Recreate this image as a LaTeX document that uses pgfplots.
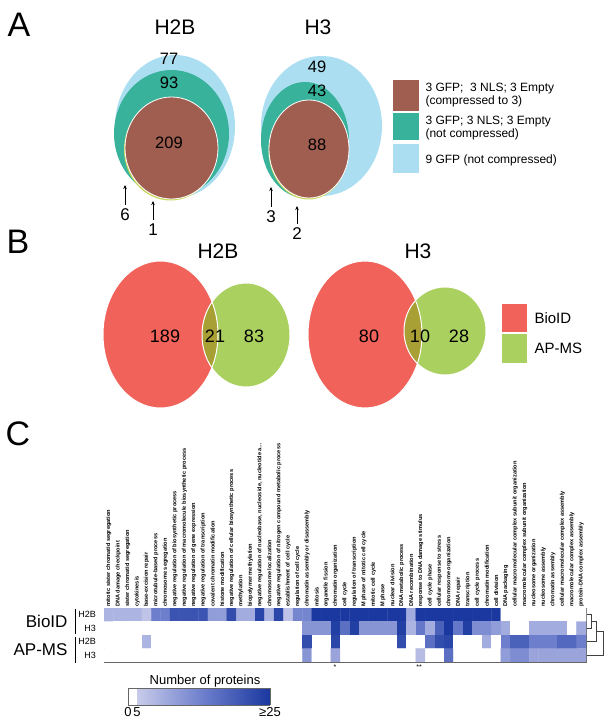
\documentclass[border=0pt]{standalone}
\usepackage{fontspec}
\setmainfont{Liberation Sans}
\usepackage{pgfplots}
\pgfplotsset{compat=1.18}
\usetikzlibrary{arrows.meta}

\definecolor{vbrown}{RGB}{160,94,80}
\definecolor{vteal}{RGB}{56,178,154}
\definecolor{vsky}{RGB}{172,222,242}
\definecolor{vlime}{RGB}{200,214,90}
\definecolor{vred}{RGB}{240,98,90}
\definecolor{vgreen}{RGB}{170,208,96}
\definecolor{volive}{RGB}{168,160,52}

\pgfplotsset{colormap={prot}{rgb255(0pt)=(255,255,255) rgb255(5pt)=(200,203,234) rgb255(15pt)=(108,126,204) rgb255(25pt)=(26,56,160)}}

\newcommand{\fs}[1]{\fontsize{#1}{#1}\selectfont}

\begin{document}
\begin{tikzpicture}
\useasboundingbox (0,0) rectangle (611pt,727pt);

% canvas in pixel coordinates, y down
\begin{axis}[at={(0pt,0pt)}, anchor=south west, width=611pt, height=727pt, scale only axis,
  xmin=0, xmax=611, ymin=0, ymax=727, y dir=reverse, hide axis, clip=false]

% ---------- panel A
\node[font=\fs{34}] at (axis cs:19,25) {A};
\node[font=\fs{21}] at (axis cs:175,27) {H2B};
\node[font=\fs{21}] at (axis cs:318,27) {H3};

\fill[vsky] (axis cs:175,126.5) ellipse [x radius=60, y radius=71.5];
\fill[vteal] (axis cs:171.5,133.5) ellipse [x radius=57.5, y radius=63.5];
\fill[vlime] (axis cs:170.5,149.5) ellipse [x radius=46.5, y radius=51];
\filldraw[fill=vbrown, draw=white, line width=0.8pt] (axis cs:171.5,148) ellipse [x radius=46.5, y radius=51];

\fill[vsky] (axis cs:321.5,126) ellipse [x radius=60.5, y radius=70];
\fill[vteal] (axis cs:305,140) ellipse [x radius=44, y radius=58];
\fill[vlime] (axis cs:308.5,150.5) ellipse [x radius=40, y radius=49];
\filldraw[fill=vbrown, draw=white, line width=0.8pt] (axis cs:309,149) ellipse [x radius=40, y radius=49];

\addplot[draw=none, mark=none, point meta=explicit symbolic, nodes near coords,
  nodes near coords align={center}, every node near coord/.append style={font=\fs{16.5}, anchor=center}]
  coordinates {(169,59)[77] (169,83)[93] (169,143)[209] (317,67)[49] (317,91)[43] (317,145)[88]};

\draw[-{Stealth[length=4pt,width=3.5pt]}, line width=0.6pt] (axis cs:125,205) -- (axis cs:125,185);
\draw[-{Stealth[length=4pt,width=3.5pt]}, line width=0.6pt] (axis cs:153,220) -- (axis cs:153,201);
\draw[-{Stealth[length=4pt,width=3.5pt]}, line width=0.6pt] (axis cs:271,207) -- (axis cs:271,187);
\draw[-{Stealth[length=4pt,width=3.5pt]}, line width=0.6pt] (axis cs:297,224) -- (axis cs:297,206);
\node[font=\fs{17}] at (axis cs:125,215) {6};
\node[font=\fs{17}] at (axis cs:153,230) {1};
\node[font=\fs{17}] at (axis cs:271,217) {3};
\node[font=\fs{17}] at (axis cs:297,234) {2};

\fill[vbrown] (axis cs:393,80) rectangle (axis cs:419,111);
\fill[vteal] (axis cs:393,113) rectangle (axis cs:419,140);
\fill[vsky] (axis cs:393,144) rectangle (axis cs:419,173);
\node[font=\fontsize{12}{13}\selectfont, anchor=west, align=left] at (axis cs:422,95.5) {3 GFP;\ \ 3 NLS; 3 Empty\\(compressed to 3)};
\node[font=\fontsize{12}{13}\selectfont, anchor=west, align=left] at (axis cs:422,128) {3 GFP; 3 NLS; 3 Empty\\(not compressed)};
\node[font=\fs{12}, anchor=west] at (axis cs:422,160) {9 GFP (not compressed)};

% ---------- panel B
\node[font=\fs{34}] at (axis cs:18,242) {B};
\node[font=\fs{21}] at (axis cs:218,251) {H2B};
\node[font=\fs{21}] at (axis cs:418,251) {H3};

\fill[vred] (axis cs:160.5,334.5) ellipse [x radius=57.5, y radius=73.5];
\fill[vgreen] (axis cs:246,335) ellipse [x radius=44, y radius=52];
\begin{scope}
\clip (axis cs:160.5,334.5) ellipse [x radius=57.5, y radius=73.5];
\fill[volive] (axis cs:246,335) ellipse [x radius=44, y radius=52];
\end{scope}
\draw[white, line width=1pt] (axis cs:160.5,334.5) ellipse [x radius=57.5, y radius=73.5];
\draw[white, line width=1pt] (axis cs:246,335) ellipse [x radius=44, y radius=52];

\fill[vred] (axis cs:365,334.5) ellipse [x radius=57, y radius=73.5];
\fill[vgreen] (axis cs:445,331) ellipse [x radius=41, y radius=44];
\begin{scope}
\clip (axis cs:365,334.5) ellipse [x radius=57, y radius=73.5];
\fill[volive] (axis cs:445,331) ellipse [x radius=41, y radius=44];
\end{scope}
\draw[white, line width=1pt] (axis cs:365,334.5) ellipse [x radius=57, y radius=73.5];
\draw[white, line width=1pt] (axis cs:445,331) ellipse [x radius=41, y radius=44];

\addplot[draw=none, mark=none, point meta=explicit symbolic, nodes near coords,
  nodes near coords align={center}, every node near coord/.append style={font=\fs{18}, anchor=center}]
  coordinates {(165,336)[189] (215,336)[21] (254,336)[83] (369,336)[80] (420,336)[10] (459,336)[28]};

\fill[vred] (axis cs:502,304) rectangle (axis cs:527,332);
\fill[vgreen] (axis cs:502,334) rectangle (axis cs:527,363);
\node[font=\fs{15}, anchor=west] at (axis cs:531,318) {BioID};
\node[font=\fs{15}, anchor=west] at (axis cs:531,348) {AP-MS};

% ---------- panel C annotations
\node[font=\fs{34}] at (axis cs:18,434) {C};
\node[font=\fs{17}, anchor=east] at (axis cs:71,621) {BioID};
\node[font=\fs{17}, anchor=east] at (axis cs:71,650) {AP-MS};
\draw[line width=0.8pt] (axis cs:75,609) -- (axis cs:75,634);
\draw[line width=0.8pt] (axis cs:75,637) -- (axis cs:75,663);

\draw[black!75, line width=0.6pt] (axis cs:586,614.75) -- (axis cs:591,614.75) -- (axis cs:591,628.25) -- (axis cs:586,628.25);
\draw[black!75, line width=0.6pt] (axis cs:591,621.5) -- (axis cs:596,621.5) -- (axis cs:596,641.75) -- (axis cs:586,641.75);
\draw[black!75, line width=0.6pt] (axis cs:596,631.6) -- (axis cs:603,631.6) -- (axis cs:603,655.25) -- (axis cs:586,655.25);

\node[font=\fs{7}] at (axis cs:335,667) {*};
\node[font=\fs{7}] at (axis cs:419,667) {**};

\node[font=\fs{13}] at (axis cs:205,681) {Number of proteins};
\end{axis}

% ---------- heatmap
\begin{axis}[at={(104pt,65pt)}, anchor=south west, width=482pt, height=54pt, scale only axis,
  xmin=0.5, xmax=51.5, ymin=0.5, ymax=4.5, y dir=reverse, enlargelimits=false,
  axis line style={black!60, line width=0.6pt}, major tick length=0pt,
  point meta min=0, point meta max=25,
  xtick={1,2,3,4,5,6,7,8,9,10,11,12,13,14,15,16,17,18,19,20,21,22,23,24,25,26,27,28,29,30,31,32,33,34,35,36,37,38,39,40,41,42,43,44,45,46,47,48,49,50,51},
  xticklabel pos=upper,
  xticklabel style={rotate=90, anchor=west, font=\fs{5.6}\bfseries, inner sep=1pt},
  xticklabels={{mitotic sister chromatid segregation},{DNA damage checkpoint},{sister chromatid segregation},{cytokinesis},{base-excision repair},{microtubule-based process},{chromosome segregation},{negative regulation of biosynthetic process},{negative regulation of macromolecule biosynthetic process},{negative regulation of gene expression},{negative regulation of transcription},{covalent chromatin modification},{histone modification},{negative regulation of cellular biosynthetic process},{methylation},{biopolymer methylation},{negative regulation of nucleobase, nucleoside, nucleotide a\ldots},{chromosome localization},{negative regulation of nitrogen compound metabolic process},{establishment of cell cycle},{regulation of cell cycle},{chromatin assembly or disassembly},{mitosis},{organelle fission},{chromatin organization},{cell cycle},{regulation of transcription},{M phase of mitotic cell cycle},{mitotic cell cycle},{M phase},{nuclear division},{DNA metabolic process},{DNA recombination},{response to DNA damage stimulus},{cell cycle phase},{cellular response to stress},{chromosome organization},{DNA repair},{transcription},{cell cycle process},{chromatin modification},{cell division},{DNA packaging},{cellular macromolecular complex subunit organization},{macromolecular complex subunit organization},{nucleosome organization},{nucleosome assembly},{chromatin assembly},{cellular macromolecular complex assembly},{macromolecular complex assembly},{protein-DNA complex assembly}},
  ytick={1,2,3,4}, yticklabels={H2B,H3,H2B,H3},
  yticklabel style={font=\fs{9}, inner sep=1pt, xshift=-7pt}]
\addplot[matrix plot*, mesh/cols=51, point meta=explicit] table[row sep=\\, meta=c]{
x y c\\
1 1 8\\ 2 1 8\\ 3 1 8\\ 4 1 8\\ 5 1 6\\ 6 1 15\\ 7 1 15\\ 8 1 21\\ 9 1 21\\ 10 1 21\\ 11 1 21\\ 12 1 11\\ 13 1 11\\ 14 1 22\\ 15 1 9\\ 16 1 9\\ 17 1 23\\ 18 1 8\\ 19 1 23\\ 20 1 6\\ 21 1 14\\ 22 1 14\\ 23 1 25\\ 24 1 25\\ 25 1 25\\ 26 1 25\\ 27 1 25\\ 28 1 25\\ 29 1 25\\ 30 1 25\\ 31 1 25\\ 32 1 25\\ 33 1 9\\ 34 1 25\\ 35 1 25\\ 36 1 25\\ 37 1 25\\ 38 1 25\\ 39 1 25\\ 40 1 25\\ 41 1 25\\ 42 1 25\\ 43 1 0\\ 44 1 0\\ 45 1 0\\ 46 1 0\\ 47 1 0\\ 48 1 0\\ 49 1 0\\ 50 1 0\\ 51 1 0\\
1 2 0\\ 2 2 0\\ 3 2 0\\ 4 2 0\\ 5 2 0\\ 6 2 0\\ 7 2 0\\ 8 2 0\\ 9 2 0\\ 10 2 0\\ 11 2 0\\ 12 2 0\\ 13 2 0\\ 14 2 0\\ 15 2 0\\ 16 2 0\\ 17 2 0\\ 18 2 0\\ 19 2 0\\ 20 2 0\\ 21 2 0\\ 22 2 12\\ 23 2 12\\ 24 2 12\\ 25 2 24\\ 26 2 17\\ 27 2 24\\ 28 2 12\\ 29 2 12\\ 30 2 12\\ 31 2 12\\ 32 2 24\\ 33 2 8\\ 34 2 16\\ 35 2 9\\ 36 2 19\\ 37 2 25\\ 38 2 16\\ 39 2 24\\ 40 2 13\\ 41 2 13\\ 42 2 11\\ 43 2 9\\ 44 2 0\\ 45 2 0\\ 46 2 9\\ 47 2 9\\ 48 2 9\\ 49 2 9\\ 50 2 0\\ 51 2 9\\
1 3 0\\ 2 3 0\\ 3 3 0\\ 4 3 0\\ 5 3 8\\ 6 3 0\\ 7 3 0\\ 8 3 0\\ 9 3 0\\ 10 3 0\\ 11 3 0\\ 12 3 0\\ 13 3 0\\ 14 3 0\\ 15 3 0\\ 16 3 0\\ 17 3 0\\ 18 3 0\\ 19 3 0\\ 20 3 0\\ 21 3 0\\ 22 3 22\\ 23 3 0\\ 24 3 0\\ 25 3 23\\ 26 3 0\\ 27 3 0\\ 28 3 0\\ 29 3 0\\ 30 3 0\\ 31 3 0\\ 32 3 22\\ 33 3 0\\ 34 3 0\\ 35 3 17\\ 36 3 22\\ 37 3 23\\ 38 3 0\\ 39 3 0\\ 40 3 0\\ 41 3 9\\ 42 3 0\\ 43 3 15\\ 44 3 19\\ 45 3 19\\ 46 3 15\\ 47 3 15\\ 48 3 15\\ 49 3 18\\ 50 3 18\\ 51 3 15\\
1 4 0\\ 2 4 0\\ 3 4 0\\ 4 4 0\\ 5 4 0\\ 6 4 0\\ 7 4 0\\ 8 4 0\\ 9 4 0\\ 10 4 0\\ 11 4 0\\ 12 4 0\\ 13 4 0\\ 14 4 0\\ 15 4 0\\ 16 4 0\\ 17 4 0\\ 18 4 0\\ 19 4 0\\ 20 4 0\\ 21 4 0\\ 22 4 12\\ 23 4 0\\ 24 4 0\\ 25 4 10\\ 26 4 0\\ 27 4 0\\ 28 4 0\\ 29 4 0\\ 30 4 0\\ 31 4 0\\ 32 4 0\\ 33 4 0\\ 34 4 7\\ 35 4 0\\ 36 4 0\\ 37 4 17\\ 38 4 0\\ 39 4 0\\ 40 4 0\\ 41 4 0\\ 42 4 0\\ 43 4 11\\ 44 4 13\\ 45 4 13\\ 46 4 10\\ 47 4 10\\ 48 4 10\\ 49 4 10\\ 50 4 10\\ 51 4 10\\
};
\end{axis}

% ---------- colour scale
\begin{axis}[at={(128pt,22pt)}, anchor=south west, width=142pt, height=17pt, scale only axis,
  view={0}{90}, xmin=3.65, xmax=25, ymin=0, ymax=1, enlargelimits=false,
  axis line style={black!60, line width=0.6pt}, major tick length=0pt,
  point meta min=0, point meta max=25,
  ytick=\empty, ztick=\empty, xtick={3.65,5,25}, xticklabels={0,5,≥25},
  xticklabel style={font=\fs{13}, inner sep=2pt}]
\addplot3[surf, shader=interp, mesh/rows=2, point meta=explicit] table[row sep=\\, meta=c]{
x y z c\\
5 0 0 5\\ 25 0 0 25\\
5 1 0 5\\ 25 1 0 25\\
};
\end{axis}
\end{tikzpicture}
\end{document}
